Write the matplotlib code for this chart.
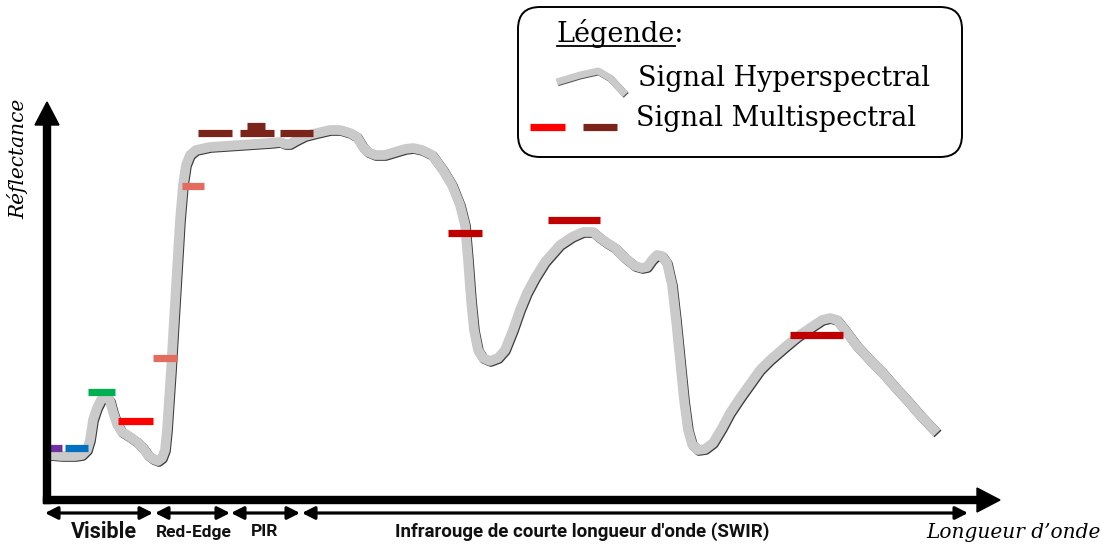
import matplotlib
matplotlib.use("Agg")
import matplotlib.pyplot as plt
import matplotlib.patheffects as pe
from matplotlib.patches import FancyBboxPatch

# ---------------- data (schematic units: x = wavelength position, y = reflectance) -------------
curve_x = [50, 62, 75, 82, 87, 90, 93, 97, 101, 106, 110, 113, 117, 122, 130, 137, 143, 148, 153,
           158, 162, 165, 167, 169, 171, 174, 177, 180, 183, 186, 190, 196, 210, 240, 270, 280,
           285, 290, 297, 305, 317, 330, 340, 350, 357, 363, 368, 375, 385, 395, 405, 413, 422,
           432, 443, 452, 460, 465, 468, 471, 474, 478, 483, 490, 498, 505, 513, 520, 527, 535,
           545, 560, 572, 583, 593, 600, 607, 615, 625, 635, 642, 647, 652, 657, 662, 667, 672,
           676, 680, 684, 688, 692, 698, 705, 713, 722, 730, 740, 750, 760, 770, 785, 797, 810,
           822, 830, 837, 845, 857, 870, 882, 895, 907, 920, 937]
curve_y = [45, 44, 44, 45, 50, 60, 80, 92, 100, 103, 99, 88, 76, 68, 63, 58, 52, 45, 41,
           39, 42, 50, 70, 100, 130, 180, 230, 280, 315, 335, 345, 350, 353, 355, 357, 358,
           356, 356, 360, 364, 367, 370, 370, 367, 363, 353, 348, 345, 345, 348, 351, 352, 350,
           345, 330, 315, 295, 275, 240, 200, 170, 150, 142, 139, 142, 150, 170, 190, 207, 222,
           238, 255, 263, 268, 268, 262, 257, 252, 242, 234, 232, 233, 240, 245, 244, 237, 215,
           180, 140, 100, 70, 56, 50, 51, 57, 72, 87, 102, 116, 130, 140, 153, 163, 172,
           180, 182, 180, 170, 154, 140, 128, 113, 100, 85, 67]

band_start = [50, 65, 88, 118, 153, 182, 198, 240, 247, 280, 448, 548, 790]
band_end   = [62, 88, 115, 153, 177, 204, 232, 274, 265, 313, 482, 600, 843]
band_level = [52, 52, 108, 79, 142, 314, 367, 367, 374, 367, 267, 280, 165]
band_colors = ["#7030A0", "#0070C0", "#00B050", "#FF0000", "#E46C5E", "#E46C5E",
               "#7B2419", "#7B2419", "#7B2419", "#7B2419", "#C00000", "#C00000", "#C00000"]

region_names = ["Visible", "Red-Edge", "PIR", "Infrarouge de courte longueur d'onde (SWIR)"]
region_start = [45, 155, 231, 302]
region_end   = [153, 230, 300, 968]
region_label_x = [104, 194, 265, 582]
region_sizes = [15.5, 12.5, 12.5, 13.5]

# legend glyph shape
legend_curve_x = [560, 580, 598, 610, 623]
legend_curve_y = [419, 425, 429, 422, 408]

# ---------------- figure ---------------
fig = plt.figure(figsize=(11.02, 5.47), dpi=100)
ax = fig.add_axes([0, 0, 1, 1])
ax.set_xlim(0, 1102)
ax.set_ylim(-47, 500)
ax.axis("off")

# hyperspectral curve
ax.plot(curve_x, curve_y, color="#CACACA", lw=7, solid_joinstyle="round",
        solid_capstyle="butt", zorder=3,
        path_effects=[pe.SimpleLineShadow(offset=(0.7, -0.7), shadow_color="#3c3c3c", alpha=1.0),
                      pe.Normal()])

# multispectral bands
for x0, x1, lv, c in zip(band_start, band_end, band_level, band_colors):
    ax.plot([x0, x1], [lv, lv], color=c, lw=5.2, solid_capstyle="butt", zorder=5)

# axes arrows
ax.arrow(47, -3.5, 0, 401.5, width=7, head_width=24, head_length=23,
         length_includes_head=True, fc="black", ec="black", zorder=6)
ax.arrow(43.5, 0, 956.5, 0, width=7, head_width=24, head_length=23,
         length_includes_head=True, fc="black", ec="black", zorder=6)

# region double arrows + labels
for name, x0, x1, lx, fs in zip(region_names, region_start, region_end, region_label_x, region_sizes):
    ax.annotate("", xy=(x1, -13), xytext=(x0, -13),
                arrowprops=dict(arrowstyle="<|-|>,head_length=0.75,head_width=0.38",
                                lw=2.3, color="black", shrinkA=0, shrinkB=0,
                                mutation_scale=10))
    ax.text(lx, -32, name, ha="center", va="center", fontsize=fs,
            fontweight="bold", family="Roboto", color="#111111")

# axis titles
ax.text(1013, -32, "Longueur d\u2019onde", ha="center", va="center", fontsize=14.5,
        family="DejaVu Serif", style="italic", color="black")
ax.text(18, 341, "R\u00e9flectance", ha="center", va="center", fontsize=14.5,
        family="DejaVu Serif", style="italic", rotation=90, color="black")

# legend box
box = FancyBboxPatch((518, 343), 444, 150, boxstyle="round,pad=0,rounding_size=22",
                     fc="white", ec="black", lw=1.4, zorder=7)
ax.add_patch(box)
LFS = 19.5
t = ax.text(557, 467, "L\u00e9gende:", ha="left", va="center", fontsize=LFS,
            family="DejaVu Serif", color="black", zorder=8)
fig.canvas.draw()
tmp = ax.text(557, 467, "L\u00e9gende", ha="left", va="center", fontsize=LFS,
              family="DejaVu Serif", alpha=0)
bb = tmp.get_window_extent(renderer=fig.canvas.get_renderer())
inv = ax.transData.inverted()
(ux0, uy0), (ux1, uy1) = inv.transform([[bb.x0, bb.y0], [bb.x1, bb.y1]])
tmp.remove()
ax.plot([ux0, ux1], [uy0 + 2, uy0 + 2], color="black", lw=1.3, zorder=8)

ax.plot(legend_curve_x, legend_curve_y, color="#CACACA", lw=5, solid_joinstyle="round",
        zorder=8,
        path_effects=[pe.SimpleLineShadow(offset=(0.6, -0.6), shadow_color="#555555", alpha=1.0),
                      pe.Normal()])
ax.text(638, 422, "Signal Hyperspectral", ha="left", va="center", fontsize=LFS,
        family="DejaVu Serif", color="black", zorder=8)
ax.plot([530, 565], [373, 373], color="#FF0000", lw=5.2, solid_capstyle="butt", zorder=8)
ax.plot([583, 617], [373, 373], color="#7B2419", lw=5.2, solid_capstyle="butt", zorder=8)
ax.text(636, 382, "Signal Multispectral", ha="left", va="center", fontsize=LFS,
        family="DejaVu Serif", color="black", zorder=8)

fig.savefig("out.png", dpi=100)
